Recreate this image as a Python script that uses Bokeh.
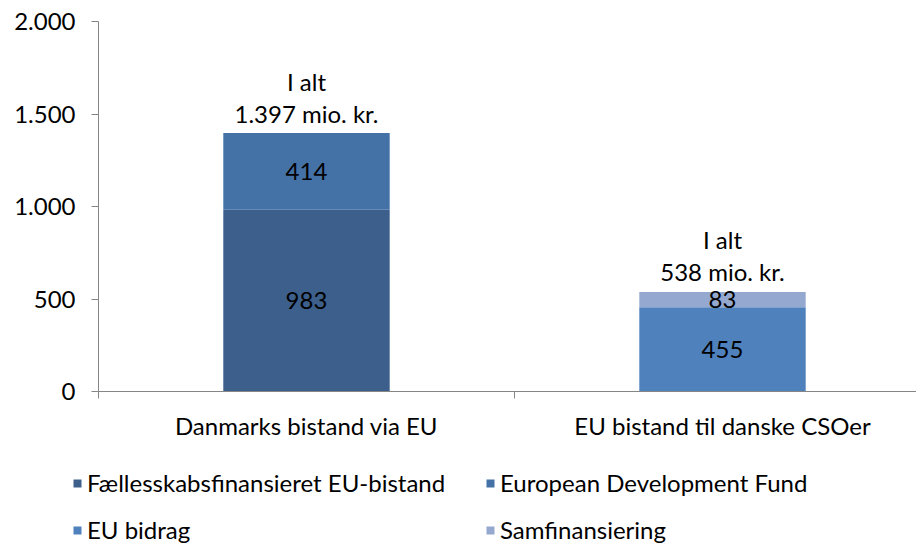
from bokeh.plotting import figure
from bokeh.layouts import column
from bokeh.models import Range1d, FixedTicker, Legend, LegendItem, ColumnDataSource
from bokeh.core.properties import value
from bokeh.embed import file_html
from bokeh.resources import INLINE

categories = ["Danmarks bistand via EU", "EU bistand til danske CSOer"]
series_names = ["Fællesskabsfinansieret EU-bistand", "European Development Fund", "EU bidrag", "Samfinansiering"]
faelles = [983, 0]
edf = [414, 0]
eu_bidrag = [0, 455]
samfin = [0, 83]
colors = ["#3C5F8C", "#4472A7", "#4F81BD", "#95A9D0"]
y_ticks = [0, 500, 1000, 1500, 2000]
y_tick_labels = ["0", "500", "1.000", "1.500", "2.000"]
total_line1 = "I alt"
total_labels = ["1.397 mio. kr.", "538 mio. kr."]

FONT = "Lato"
FS = "24px"

xs = [i + 0.5 for i in range(len(categories))]
keys = ["s0", "s1", "s2", "s3"]
series_all = [faelles, edf, eu_bidrag, samfin]
data = {"x": xs}
for k, v in zip(keys, series_all):
    data[k] = v
src = ColumnDataSource(data)

p = figure(width=916, height=460, output_backend="svg", toolbar_location=None,
           x_range=Range1d(0, 818 / 416), y_range=Range1d(0, 2000),
           min_border_left=98, min_border_right=0, min_border_top=21, min_border_bottom=69)
p.frame_align = False
p.outline_line_color = None
p.xgrid.visible = False
p.ygrid.visible = False

renderers = p.vbar_stack(keys, x="x", width=0.4, source=src, color=colors, line_color=None)

# segment labels
lx, ly, lt = [], [], []
for i, x in enumerate(xs):
    base = 0
    for s in series_all:
        v = s[i]
        if v > 0:
            lx.append(x); ly.append(base + v / 2); lt.append(str(v))
        base += v
p.text(x=lx, y=ly, text=lt, text_align="center", text_baseline="middle",
       text_font=value(FONT), text_font_size=FS, text_color="black")

totals = [sum(s[i] for s in series_all) for i in range(len(categories))]
p.text(x=xs, y=totals, text=total_labels, text_align="center", text_baseline="middle",
       y_offset=-20, text_font=value(FONT), text_font_size=FS, text_color="black")
p.text(x=xs, y=totals, text=[total_line1] * len(xs), text_align="center", text_baseline="middle",
       y_offset=-52, text_font=value(FONT), text_font_size=FS, text_color="black")

# axes
axcol = "#868686"
p.yaxis.ticker = FixedTicker(ticks=y_ticks)
p.yaxis.major_label_overrides = {t: l for t, l in zip(y_ticks, y_tick_labels)}
p.yaxis.axis_line_color = axcol
p.yaxis.major_tick_line_color = axcol
p.yaxis.major_tick_in = 0
p.yaxis.major_tick_out = 7
p.yaxis.minor_tick_line_color = None
p.yaxis.major_label_text_font = FONT
p.yaxis.major_label_text_font_size = FS
p.yaxis.major_label_text_color = "black"
p.yaxis.major_label_standoff = 16

p.xaxis.ticker = FixedTicker(ticks=xs, minor_ticks=list(range(len(categories) + 1)))
p.xaxis.major_label_overrides = {x: c for x, c in zip(xs, categories)}
p.xaxis.axis_line_color = axcol
p.xaxis.major_tick_line_color = None
p.xaxis.minor_tick_line_color = axcol
p.xaxis.minor_tick_in = 0
p.xaxis.minor_tick_out = 7
p.xaxis.major_label_text_font = FONT
p.xaxis.major_label_text_font_size = FS
p.xaxis.major_label_text_color = "black"
p.xaxis.major_label_standoff = 12

# legend panel (separate figure below the chart); key glyphs sit outside its visible range
lp = figure(width=916, height=87, output_backend="svg", toolbar_location=None,
            x_range=Range1d(0, 1), y_range=Range1d(0, 1), x_axis_type=None, y_axis_type=None,
            min_border=0)
lp.frame_align = False
lp.outline_line_color = None
lp.xgrid.visible = False
lp.ygrid.visible = False
leg_rs = [lp.rect(x=[-5], y=[-5], width=1, height=1, fill_color=c, line_color=None) for c in colors]

def make_legend(idx, xloc):
    items = [LegendItem(label=series_names[i], renderers=[leg_rs[i]]) for i in idx]
    return Legend(items=items, location=(xloc, 2), orientation="vertical",
                  glyph_width=10, glyph_height=10, label_height=31, spacing=16,
                  label_standoff=5, padding=0, margin=0, border_line_color=None,
                  background_fill_alpha=0, label_text_font=FONT, label_text_font_size=FS,
                  label_text_color="black")

lp.add_layout(make_legend([0, 2], 72), "center")
lp.add_layout(make_legend([1, 3], 485), "center")

layout = column(p, lp, spacing=0)
open("out.html", "w").write(file_html(layout, INLINE))
